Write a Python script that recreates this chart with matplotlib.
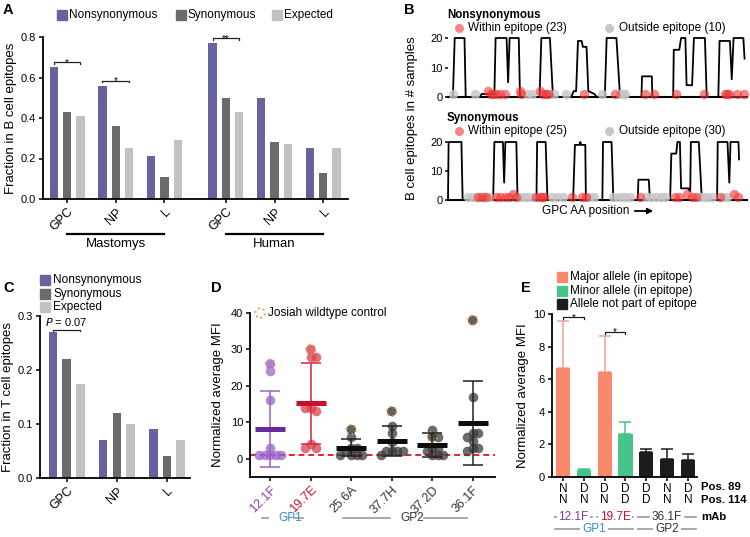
import numpy as np
import matplotlib
matplotlib.use('Agg')
import matplotlib.pyplot as plt
from matplotlib.lines import Line2D
from matplotlib.transforms import blended_transform_factory

plt.rcParams['font.family'] = ['Liberation Sans', 'DejaVu Sans']
plt.rcParams['font.size'] = 8
plt.rcParams['axes.linewidth'] = 1.3
plt.rcParams['xtick.major.width'] = 1.1
plt.rcParams['ytick.major.width'] = 1.1

# ---------------- data ----------------
# A: fraction of mutations in B cell epitopes
a_genes = ['GPC', 'NP', 'L', 'GPC', 'NP', 'L']
a_hosts = ['Mastomys', 'Human']
a_nonsyn = [0.65, 0.56, 0.21, 0.77, 0.50, 0.25]
a_syn = [0.43, 0.36, 0.11, 0.50, 0.28, 0.13]
a_exp = [0.41, 0.25, 0.29, 0.43, 0.27, 0.25]
a_sig_group = [0, 1, 3]
a_sig_text = ['*', '*', '**']
a_sig_y = [0.675, 0.585, 0.795]

# B: epitope profiles along GPC (AA position, # samples)
b_ns_pos = [0, 8, 11, 27, 29, 52, 55, 76, 78, 96, 98.5, 101, 116, 118, 150, 153, 167, 172,
            202, 206, 210, 213, 219, 221, 227, 230, 240, 244, 257, 260, 276, 282, 317, 318,
            334, 335, 369, 370, 379, 382, 389, 391, 400, 403, 421, 424, 443, 445, 462, 465,
            468, 484, 486]
b_ns_cnt = [0, 0, 20, 20, 0, 0, 1, 1, 20, 20, 5, 20, 20, 0, 0, 20, 20, 0,
            0, 2, 2, 19, 19, 17, 17, 2, 1, 0, 0, 20, 20, 0, 0, 7,
            7, 0, 0, 16, 16, 20, 20, 4, 4, 20, 20, 0, 0, 19, 19, 6,
            20, 20, 13]
b_syn_pos = [0, 1, 22, 24, 74, 76, 90, 92, 94, 112, 114, 145, 146, 160, 163, 205, 208, 215,
             217, 218, 225, 226, 253, 254, 268, 271, 311, 312, 329, 331, 364, 366, 374, 376,
             380, 382, 394, 396, 397, 398, 411, 416, 441, 442, 458, 461, 463, 476, 477]
b_syn_cnt = [0, 20, 20, 0, 0, 20, 20, 6, 20, 20, 0, 0, 20, 20, 0, 0, 19, 19,
             20, 19, 19, 0, 0, 20, 20, 0, 0, 7, 7, 0, 0, 16, 16, 20,
             20, 4, 4, 3, 3, 20, 20, 0, 0, 20, 20, 6, 20, 20, 14]
b_ns_in = [66, 71, 74, 79, 85, 93, 118, 120, 151, 156, 160, 164, 223, 274, 323, 338, 373,
           419, 454, 457, 460, 474, 485]
b_ns_in_cnt = [2, 1, 1, 1, 1, 1, 2, 1, 2, 1, 1, 1, 1, 1, 1, 1, 1, 1, 1, 1, 1, 1, 1]
b_ns_out = [8, 44, 129, 137, 174, 193, 252, 282, 287, 290]
b_syn_in = [49, 56, 63, 79, 86, 93, 100, 107, 112, 145, 150, 154, 158, 203, 219, 226, 315,
            372, 379, 392, 400, 407, 446, 468, 475]
b_syn_in_cnt = [1, 1, 1, 1, 1, 1, 1, 2, 1, 1, 1, 1, 1, 1, 1, 1, 1,
                1, 1, 2, 1, 1, 1, 2, 1]
b_syn_out = [33, 41, 47, 63, 68, 118, 124, 130, 137, 170, 178, 188, 233, 239, 271, 278, 285,
             292, 298, 325, 332, 341, 349, 356, 413, 419, 425, 433, 452, 458]

# C: fraction in T cell epitopes
c_genes = ['GPC', 'NP', 'L']
c_nonsyn = [0.27, 0.07, 0.09]
c_syn = [0.22, 0.12, 0.04]
c_exp = [0.175, 0.10, 0.07]

# D: normalized MFI per mAb
d_mabs = ['12.1F', '19.7E', '25.6A', '37.7H', '37.2D', '36.1F']
d_ctrl = [26, 30, 8, 13, 6, 38]
d_vals = [[24, 16, 3, 1, 1, 1, 1, 1],
          [28, 28, 14, 13, 14, 4, 3, 3],
          [6, 3, 3, 2, 1, 1, 1, 1],
          [9, 7, 4.5, 2, 2, 2, 2, 1],
          [8, 6, 3, 3, 2, 1, 1, 1],
          [17, 7, 7, 6, 5, 3, 3, 2]]
d_mean = [8.2, 15.2, 3.0, 4.9, 3.8, 9.8]
d_sd = [10.5, 11.1, 2.3, 4.2, 3.4, 11.5]

# E: MFI by allele
e_vals = [6.7, 0.4, 6.45, 2.65, 1.55, 1.1, 1.05]
e_err = [2.9, 0.1, 2.2, 0.7, 0.17, 0.6, 0.37]
e_kind = [0, 1, 0, 1, 2, 2, 2]
e_kind_names = ['Major allele (in epitope)', 'Minor allele (in epitope)', 'Allele not part of epitope']
e_pos89 = ['N', 'D', 'D', 'D', 'D', 'N', 'D']
e_pos114 = ['N', 'N', 'N', 'D', 'D', 'N', 'N']

# ---------------- style ----------------
PURP = '#67639f'
DGRAY = '#6b6b6b'
LGRAY = '#c2c2c3'
W, H = 750, 537
fig = plt.figure(figsize=(7.5, 5.37), dpi=100)


def px_axes(l, t, r, b):
    return fig.add_axes([l / W, 1 - b / H, (r - l) / W, (b - t) / H])


def ftext(x, y, s, **kw):
    fig.text(x / W, 1 - y / H, s, **kw)


def fmark(x, y, **kw):
    fig.add_artist(Line2D([x / W], [1 - y / H], transform=fig.transFigure, linestyle='none', **kw))


def fline(x0, x1, y, **kw):
    fig.add_artist(Line2D([x0 / W, x1 / W], [1 - y / H] * 2, transform=fig.transFigure, **kw))


def bracket(ax, x0, x1, y, txt, d, fs=7, star=True):
    ax.plot([x0, x0, x1, x1], [y - d, y, y, y - d], color='#222222', lw=0.9, clip_on=False)
    if star:
        ax.annotate(txt, ((x0 + x1) / 2, y), xytext=(0, -2.6), textcoords='offset points',
                    ha='center', va='baseline', fontsize=fs)
    else:
        ax.annotate(txt, ((x0 + x1) / 2, y), xytext=(0, 0.8), textcoords='offset points',
                    ha='center', va='bottom', fontsize=fs)


def style_axes(ax):
    for s in ['top', 'right']:
        ax.spines[s].set_visible(False)
    ax.tick_params(labelsize=8, length=3, pad=2)


# ---------------- panel A ----------------
axA = px_axes(43, 37, 348, 199)
style_axes(axA)
centers = [i * 3.65 + (0.95 if i >= 3 else 0) for i in range(len(a_genes))]
bw = 0.625
for off, vals, col in [(-1, a_nonsyn, PURP), (0, a_syn, DGRAY), (1, a_exp, LGRAY)]:
    axA.bar([c + off for c in centers], vals, width=bw, color=col)
axA.set_xlim(-1.81, 21.06)
axA.set_ylim(0, 0.8)
axA.set_yticks([0, 0.2, 0.4, 0.6, 0.8])
axA.set_yticklabels(['0.0', '0.2', '0.4', '0.6', '0.8'])
axA.set_xticks(centers)
axA.set_xticklabels(a_genes, rotation=45, ha='right', rotation_mode='anchor', fontsize=9)
axA.set_ylabel('Fraction in B cell epitopes', fontsize=9.5, labelpad=3)
for g, t, y in zip(a_sig_group, a_sig_text, a_sig_y):
    bracket(axA, centers[g] - 1, centers[g] + 1, y, t, 0.008)
trA = blended_transform_factory(axA.transData, axA.transAxes)
for k, host in enumerate(a_hosts):
    x0, x1 = centers[3 * k], centers[3 * k + 2]
    axA.plot([x0, x1], [-0.216, -0.216], color='black', lw=1.6, transform=trA, clip_on=False)
    axA.text((x0 + x1) / 2, -0.24, host, transform=trA, ha='center', va='top', fontsize=9.5)
for x, lab, col in [(62, 'Nonsynonymous', PURP), (181, 'Synonymous', DGRAY), (277, 'Expected', LGRAY)]:
    fmark(x, 15, marker='s', markersize=6.5, color=col)
    ftext(x + 7, 15, lab, fontsize=8.5, va='center')
ftext(3, 10, 'A', fontsize=10.5, fontweight='bold', va='center')

# ---------------- panel B ----------------
RED = '#ee3434'
GREYDOT = '#c6c6c6'


def profile_axes(top, bottom, pos, cnt, inpos, incnt, outpos, title, nin, nout, ty):
    ax = px_axes(448, top, 747, bottom)
    for s in ['top', 'right', 'left']:
        ax.spines[s].set_visible(False)
    ax.spines['bottom'].set_linewidth(1.5)
    ax.plot(pos, cnt, color='black', lw=1.3, clip_on=False, zorder=2)
    ax.scatter(outpos, [1] * len(outpos), s=46, color=GREYDOT, alpha=0.8, lw=0, clip_on=False, zorder=3)
    ax.scatter(inpos, incnt, s=46, color=RED, alpha=0.6, lw=0, clip_on=False, zorder=4)
    ax.set_xlim(0, 490)
    ax.set_ylim(0, 20)
    ax.set_xticks([])
    ax.set_yticks([0, 10, 20])
    ax.tick_params(axis='y', labelsize=8, length=2, pad=2)
    ftext(447, ty, title, fontsize=8.3, fontweight='bold', va='center')
    fmark(459, ty + 13, marker='o', markersize=6.5, color=RED, alpha=0.6, markeredgewidth=0)
    ftext(468, ty + 13, 'Within epitope (%d)' % nin, fontsize=8.5, va='center')
    fmark(609, ty + 13, marker='o', markersize=6.5, color=GREYDOT, markeredgewidth=0)
    ftext(619, ty + 13, 'Outside epitope (%d)' % nout, fontsize=8.5, va='center')
    return ax


axB1 = profile_axes(38, 97, b_ns_pos, b_ns_cnt, b_ns_in, b_ns_in_cnt, b_ns_out,
                    'Nonsynonymous', len(b_ns_in), len(b_ns_out), 15)
axB2 = profile_axes(142, 200, b_syn_pos, b_syn_cnt, b_syn_in, b_syn_in_cnt, b_syn_out,
                    'Synonymous', len(b_syn_in), len(b_syn_out), 118)
ftext(586, 211, 'GPC AA position', fontsize=8.5, ha='center', va='center')
fig.add_artist(matplotlib.patches.FancyArrowPatch((632 / W, 1 - 211 / H), (656 / W, 1 - 211 / H),
               transform=fig.transFigure, arrowstyle='-|>', mutation_scale=8, lw=1.3, color='black'))
ftext(412, 118, 'B cell epitopes in # samples', fontsize=9.5, rotation=90, ha='center', va='center')
ftext(404, 10, 'B', fontsize=10.5, fontweight='bold', va='center')

# ---------------- panel C ----------------
axC = px_axes(40, 316, 190, 478)
style_axes(axC)
cc = [i * 3.66 for i in range(len(c_genes))]
for off, vals, col in [(-1, c_nonsyn, PURP), (0, c_syn, DGRAY), (1, c_exp, LGRAY)]:
    axC.bar([c + off for c in cc], vals, width=0.63, color=col)
axC.set_xlim(-1.95, 9.0)
axC.set_ylim(0, 0.3)
axC.set_yticks([0, 0.1, 0.2, 0.3])
axC.set_yticklabels(['0.0', '0.1', '0.2', '0.3'])
axC.set_xticks(cc)
axC.set_xticklabels(c_genes, rotation=45, ha='right', rotation_mode='anchor', fontsize=9)
axC.set_ylabel('Fraction in T cell epitopes', fontsize=9.5, labelpad=3)
bracket(axC, cc[0] - 1, cc[0] + 1, 0.275, '$P$ = 0.07', 0.002, fs=8, star=False)
for y, lab, col in [(280, 'Nonsynonymous', PURP), (294, 'Synonymous', DGRAY), (307, 'Expected', LGRAY)]:
    fmark(45, y, marker='s', markersize=6.5, color=col)
    ftext(53, y, lab, fontsize=8.5, va='center')
ftext(3, 288, 'C', fontsize=10.5, fontweight='bold', va='center')

# ---------------- panel D ----------------
axD = px_axes(250, 313, 495, 477)
style_axes(axD)
axD.set_xlim(-0.5, 5.55)
axD.set_ylim(-5, 40)
dot_cols = ['#9a63c8', '#d9404e', '#3a3a3a', '#3a3a3a', '#3a3a3a', '#3a3a3a']
mean_cols = ['#6a2a9e', '#c8102e', '#0d0d0d', '#0d0d0d', '#0d0d0d', '#0d0d0d']
err_cols = ['#9a63c8', '#d0283c', '#222222', '#222222', '#222222', '#222222']
lab_cols = ['#7a3fa8', '#c8102e', '#333333', '#333333', '#333333', '#333333']
px_x = 245 / 6.05
px_y = 164 / 45.0
diam = 7.5


def swarm(vals):
    placed, offs = [], []
    for v in vals:
        y = v * px_y
        for k in [0, 1, -1, 2, -2, 3, -3, 4, -4, 5, -5]:
            x = k * diam * 0.72
            if all((x - a) ** 2 + (y - b) ** 2 >= (diam * 0.7) ** 2 for a, b in placed):
                break
        placed.append((x, y))
        offs.append(x / px_x)
    return offs


axD.axhline(1, color='#e8202a', lw=1.4, ls=(0, (3, 2)), zorder=1)
for i in range(len(d_mabs)):
    allv = [d_ctrl[i]] + d_vals[i]
    offs = swarm(allv)
    axD.scatter([i + o for o in offs[1:]], d_vals[i], s=48, color=dot_cols[i], alpha=0.75, lw=0, zorder=3)
    axD.scatter([i + offs[0]], [d_ctrl[i]], s=48, color=dot_cols[i], alpha=0.8,
                edgecolors='#f0a040', linewidths=1.4, linestyle=':', zorder=3)
    axD.errorbar([i], [d_mean[i]], yerr=[d_sd[i]], fmt='none', ecolor=err_cols[i],
                 elinewidth=1.1, capsize=7, capthick=1.1, zorder=4)
    axD.plot([i - 0.37, i + 0.37], [d_mean[i]] * 2, color=mean_cols[i], lw=3.6,
             solid_capstyle='butt', zorder=5)
axD.set_xticks(range(len(d_mabs)))
axD.set_xticklabels(d_mabs, rotation=45, ha='right', rotation_mode='anchor', fontsize=9)
for t, c in zip(axD.get_xticklabels(), lab_cols):
    t.set_color(c)
axD.set_yticks([0, 10, 20, 30, 40])
axD.set_ylabel('Normalized average MFI', fontsize=9.5, labelpad=5)
axD.scatter([-0.25], [40], s=48, facecolor='none', edgecolors='#f0a040', linewidths=1.4,
            linestyle=':', clip_on=False)
axD.text(-0.06, 40, 'Josiah wildtype control', fontsize=8.5, va='center')
GLINE = '#9a9a9a'
fline(262, 268, 518, color=GLINE, lw=1.2)
fline(294, 303, 518, color=GLINE, lw=1.2)
ftext(290, 518, 'GP1', fontsize=8.5, color='#2f8fd0', ha='center', va='center')
fline(343, 390, 518, color=GLINE, lw=1.2)
fline(424, 467, 518, color=GLINE, lw=1.2)
ftext(412, 518, 'GP2', fontsize=8.5, color='#333333', ha='center', va='center')
ftext(211, 288, 'D', fontsize=10.5, fontweight='bold', va='center')

# ---------------- panel E ----------------
axE = px_axes(552, 314, 697, 477)
style_axes(axE)
e_cols = ['#f8896b', '#47c48c', '#1c1c1c']
e_ecols = ['#f7a08a', '#47c48c', '#1c1c1c']
xe = np.arange(len(e_vals))
axE.bar(xe, e_vals, width=0.68, color=[e_cols[k] for k in e_kind], zorder=2)
for i in range(len(e_vals)):
    axE.errorbar([i], [e_vals[i]], yerr=[[0], [e_err[i]]], fmt='none', ecolor=e_ecols[e_kind[i]],
                 elinewidth=1.1, capsize=4, capthick=1.1, zorder=1)
axE.set_xlim(-0.53, 6.44)
axE.set_ylim(0, 10)
axE.set_yticks([0, 2, 4, 6, 8, 10])
axE.set_xticks(xe)
axE.set_xticklabels(e_pos89, fontsize=8.5)
axE.tick_params(axis='x', length=3, pad=1.5)
axE.set_ylabel('Normalized average MFI', fontsize=9.5, labelpad=3)
bracket(axE, 0, 1, 9.8, '*', 0.1)
bracket(axE, 2, 3, 8.9, '*', 0.1)
trE = blended_transform_factory(axE.transData, fig.transFigure)
for i, s in enumerate(e_pos114):
    axE.text(i, 1 - 500 / H, s, transform=trE, ha='center', va='center', fontsize=8.5)
ftext(701, 487, 'Pos. 89', fontsize=8.2, fontweight='bold', va='center')
ftext(701, 500, 'Pos. 114', fontsize=8.2, fontweight='bold', va='center')
ftext(701, 517, 'mAb', fontsize=8.2, fontweight='bold', va='center')
x_of = lambda v: 563 + v * 20.8
for a, b, lab, col in [(0, 1, '12.1F', '#7a3fa8'), (2, 3, '19.7E', '#c8102e'), (4, 6, '36.1F', '#333333')]:
    fline(x_of(a) - 8, x_of(b) + 8, 517, color=GLINE, lw=1.2)
    ftext((x_of(a) + x_of(b)) / 2, 517, lab, fontsize=8.5, color=col, ha='center', va='center',
          bbox=dict(facecolor='white', edgecolor='none', pad=1.0))
for a, b, lab, col in [(0, 3, 'GP1', '#2f8fd0'), (4, 6, 'GP2', '#333333')]:
    fline(x_of(a) - 8, x_of(b) + 8, 529, color=GLINE, lw=1.2)
    ftext((x_of(a) + x_of(b)) / 2, 529, lab, fontsize=8.5, color=col, ha='center', va='center',
          bbox=dict(facecolor='white', edgecolor='none', pad=1.5))
for k, (y, lab) in enumerate(zip([277, 291, 304], e_kind_names)):
    fmark(562, y, marker='s', markersize=6.5, color=e_cols[k])
    ftext(570, y, lab, fontsize=8.5, va='center')
ftext(521, 288, 'E', fontsize=10.5, fontweight='bold', va='center')

fig.savefig('out.png', dpi=100)
